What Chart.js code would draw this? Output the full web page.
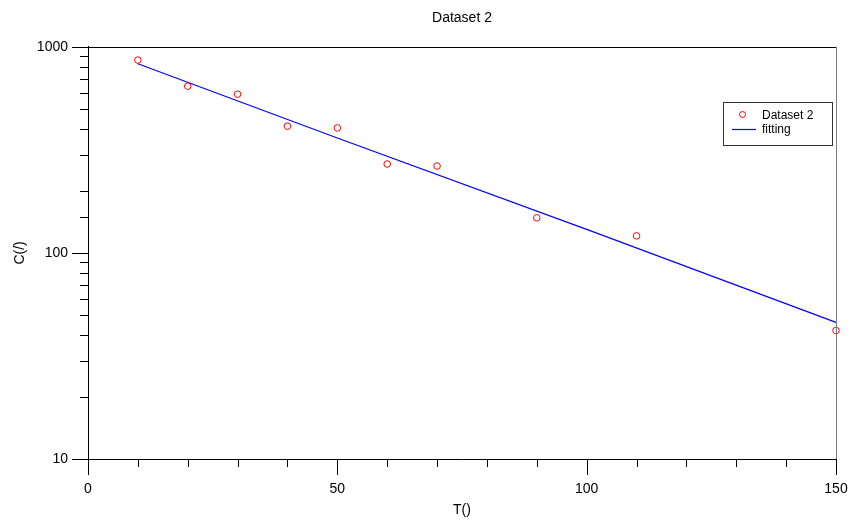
<!DOCTYPE html>
<html>
<head>
<meta charset="utf-8">
<script src="https://cdn.jsdelivr.net/npm/chart.js@4"></script>
<style>
  html, body { margin: 0; padding: 0; background: #fff; }
  #wrap { width: 850px; height: 521px; }
</style>
</head>
<body>
<div id="wrap"><canvas id="chart" width="850" height="521"></canvas></div>
<script>
// measured points (T, C)
const pointT = [10, 20, 30, 40, 50, 60, 70, 90, 110, 150];
const pointC = [862, 644, 589, 412, 404, 270, 264, 148, 121, 42];

// fitted line read along its length
const fitT = [10, 50, 100, 150];
const fitC = [827, 361, 130, 46];

// tick labels shown
const xMajor = [0, 50, 100, 150];
const yMajor = [10, 100, 1000];

const FONT = "'Liberation Sans', Arial, sans-serif";
const RED = '#ff0000';
const BLUE = '#0000ff';

/* --------------------------
   Plugin: ticks, frame, legend
---------------------------- */
const framePlugin = {
    id: 'frame',
    afterDraw(chart) {
        const ctx = chart.ctx;
        const area = chart.chartArea;
        const xs = chart.scales.x;
        const ys = chart.scales.y;

        ctx.save();
        ctx.lineWidth = 1;
        ctx.strokeStyle = '#000';

        // x ticks (downwards)
        xs.ticks.forEach(t => {
            const px = Math.round(xs.getPixelForValue(t.value)) + 0.5;
            const len = xMajor.includes(t.value) ? 16 : 8;
            ctx.beginPath();
            ctx.moveTo(px, area.bottom);
            ctx.lineTo(px, area.bottom + len);
            ctx.stroke();
        });

        // y ticks (to the left)
        ys.ticks.forEach(t => {
            const py = Math.round(ys.getPixelForValue(t.value)) + 0.5;
            const len = yMajor.includes(t.value) ? 16 : 8;
            ctx.beginPath();
            ctx.moveTo(area.left, py);
            ctx.lineTo(area.left - len, py);
            ctx.stroke();
        });

        // top line and grey right line
        ctx.beginPath();
        ctx.moveTo(area.left, Math.round(area.top) + 0.5);
        ctx.lineTo(area.right, Math.round(area.top) + 0.5);
        ctx.stroke();
        ctx.strokeStyle = '#808080';
        ctx.beginPath();
        ctx.moveTo(Math.round(area.right) + 0.5, area.top);
        ctx.lineTo(Math.round(area.right) + 0.5, area.bottom);
        ctx.stroke();

        // legend box
        const ds = chart.data.datasets;
        ctx.strokeStyle = '#333';
        ctx.strokeRect(723.5, 102.5, 109, 43);
        ctx.strokeStyle = RED;
        ctx.beginPath();
        ctx.arc(742.5, 114.5, 3, 0, Math.PI * 2);
        ctx.stroke();
        ctx.strokeStyle = BLUE;
        ctx.lineWidth = 1.2;
        ctx.beginPath();
        ctx.moveTo(732, 129.5);
        ctx.lineTo(756, 129.5);
        ctx.stroke();
        ctx.fillStyle = '#000';
        ctx.font = '12px ' + FONT;
        ctx.textBaseline = 'middle';
        ctx.fillText(ds[0].label, 762, 116);
        ctx.fillText(ds[1].label, 762, 130);
        ctx.restore();
    }
};

const ctx = document.getElementById('chart').getContext('2d');
new Chart(ctx, {
    type: 'scatter',
    data: {
        datasets: [{
            label: 'Dataset 2',
            data: pointT.map((t, i) => ({ x: t, y: pointC[i] })),
            showLine: false,
            pointStyle: 'circle',
            pointRadius: 3.3,
            pointBorderWidth: 1,
            borderColor: RED,
            backgroundColor: 'rgba(0,0,0,0)',
            clip: false,
            order: 1
        }, {
            label: 'fitting',
            data: fitT.map((t, i) => ({ x: t, y: fitC[i] })),
            showLine: true,
            pointRadius: 0,
            borderWidth: 1.2,
            borderColor: BLUE,
            backgroundColor: BLUE,
            clip: false,
            order: 2
        }]
    },
    options: {
        responsive: false,
        animation: false,
        layout: { padding: { left: 0, right: 14, top: 0, bottom: 0 } },
        plugins: {
            legend: { display: false },
            tooltip: { enabled: false },
            title: {
                display: true,
                text: 'Dataset 2',
                fullSize: false,
                color: '#000',
                font: { family: FONT, size: 14, weight: 'normal' },
                padding: { top: 10, bottom: 20 }
            }
        },
        scales: {
            x: {
                type: 'linear',
                min: 0,
                max: 150,
                afterFit: s => {
                    s.height = 62;
                    s.paddingLeft = 0;
                    s.paddingRight = 0;
                },
                grid: { display: false, drawTicks: false },
                border: { display: true, color: '#000', width: 1 },
                ticks: {
                    stepSize: 10,
                    autoSkip: false,
                    maxRotation: 0,
                    padding: 22,
                    color: '#000',
                    font: { family: FONT, size: 14 },
                    callback: v => xMajor.includes(v) ? String(v) : ''
                },
                title: {
                    display: true,
                    text: 'T()',
                    color: '#000',
                    font: { family: FONT, size: 14 },
                    padding: { top: 0, bottom: 2 }
                }
            },
            y: {
                type: 'logarithmic',
                min: 10,
                max: 1000,
                afterFit: s => {
                    s.width = 88;
                    s.paddingTop = 0;
                    s.paddingBottom = 0;
                },
                grid: { display: false, drawTicks: false },
                border: { display: true, color: '#000', width: 1 },
                ticks: {
                    autoSkip: false,
                    padding: 20,
                    color: '#000',
                    font: { family: FONT, size: 14 },
                    callback: v => yMajor.includes(v) ? String(v) : ''
                },
                title: {
                    display: true,
                    text: 'C(/)',
                    color: '#000',
                    font: { family: FONT, size: 14 },
                    padding: { top: 12, bottom: 0 }
                }
            }
        }
    },
    plugins: [framePlugin]
});
</script>
</body>
</html>
